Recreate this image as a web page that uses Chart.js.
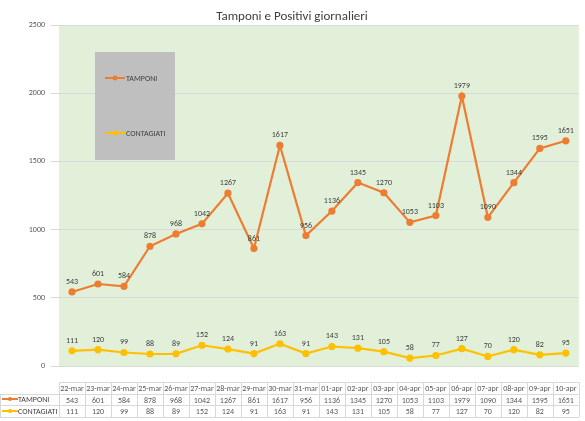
<!DOCTYPE html><html><head><script src="https://cdn.jsdelivr.net/npm/chart.js@4/dist/chart.umd.min.js"></script>
<style>body{margin:0;background:#fff}#w{width:585px;height:421px}</style></head><body><div id="w"><canvas id="c"></canvas></div><script>
const categories=["22-mar","23-mar","24-mar","25-mar","26-mar","27-mar","28-mar","29-mar","30-mar","31-mar","01-apr","02-apr","03-apr","04-apr","05-apr","06-apr","07-apr","08-apr","09-apr","10-apr"];
const tamponi=[543,601,584,878,968,1042,1267,861,1617,956,1136,1345,1270,1053,1103,1979,1090,1344,1595,1651];
const contagiati=[111,120,99,88,89,152,124,91,163,91,143,131,105,58,77,127,70,120,82,95];
const names=["TAMPONI","CONTAGIATI"];
const colors=["#ED7D31","#FFC000"];
const F="Calibri, Carlito, 'Liberation Sans', sans-serif";
const extra={id:'extra',
beforeDraw(ch){const a=ch.chartArea,c=ch.ctx;c.save();c.fillStyle='#E2EFD9';c.fillRect(a.left,a.top,a.right-a.left,a.bottom-a.top);c.restore();},
afterDraw(ch){const c=ch.ctx,a=ch.chartArea,x=ch.scales.x;c.save();
c.font="13px "+F;c.fillStyle='#404040';c.textAlign='center';c.fillText('Tamponi e Positivi giornalieri',292,20);
c.font="8px "+F;c.fillStyle='#404040';
ch.data.datasets.forEach((d,i)=>{ch.getDatasetMeta(i).data.forEach((p,j)=>{c.fillText(d.data[j],p.x,p.y-8);});});
c.fillStyle='#BFBFBF';c.fillRect(95,52,80,108);
[[78,0],[133,1]].forEach(([y,i])=>{c.strokeStyle=colors[i];c.lineWidth=2;c.beginPath();c.moveTo(105,y);c.lineTo(125,y);c.stroke();c.fillStyle=colors[i];c.beginPath();c.arc(115,y,2.5,0,7);c.fill();c.fillStyle='#404040';c.textAlign='left';c.font="8px "+F;c.fillText(names[i],126,y+3);});
const rows=[382,394,405,417];c.strokeStyle='#D9D9D9';c.lineWidth=1;
rows.forEach((y,k)=>{c.beginPath();c.moveTo(k==0?a.left:0,y+.5);c.lineTo(a.right,y+.5);c.stroke();});
const w=(x.getPixelForValue(1)-x.getPixelForValue(0));
for(let j=0;j<=categories.length;j++){const px=Math.round(x.getPixelForValue(0)-w/2+j*w)+.5;c.beginPath();c.moveTo(px,382);c.lineTo(px,417);c.stroke();}
c.beginPath();c.moveTo(.5,394);c.lineTo(.5,417);c.stroke();
c.font="8px "+F;c.fillStyle='#595959';c.textAlign='center';
categories.forEach((l,j)=>{const px=x.getPixelForValue(j);c.fillText(l,px,391);c.fillText(tamponi[j],px,403);c.fillText(contagiati[j],px,414);});
[[399,0],[411,1]].forEach(([y,i])=>{c.strokeStyle=colors[i];c.lineWidth=2;c.beginPath();c.moveTo(2,y);c.lineTo(18,y);c.stroke();c.fillStyle=colors[i];c.beginPath();c.arc(10,y,2,0,7);c.fill();c.fillStyle='#404040';c.textAlign='left';c.fillText(names[i],18,y+3);});
c.restore();}};
new Chart(document.getElementById('c'),{type:'line',data:{labels:categories,datasets:[
{label:names[0],data:tamponi,borderColor:colors[0],backgroundColor:colors[0],borderWidth:2.2,pointRadius:2.5,tension:0},
{label:names[1],data:contagiati,borderColor:colors[1],backgroundColor:colors[1],borderWidth:2.2,pointRadius:2.5,tension:0}]},
plugins:[extra],
options:{responsive:true,maintainAspectRatio:false,animation:false,devicePixelRatio:1,
layout:{padding:{top:25,bottom:0,left:0,right:0}},
plugins:{legend:{display:false},title:{display:false},tooltip:{enabled:false}},
scales:{x:{offset:true,grid:{display:false},border:{display:false},ticks:{display:false},afterFit(s){s.height=55;}},
y:{min:0,max:2500,ticks:{stepSize:500,font:{size:8,family:F},color:'#595959',padding:6,callback:v=>String(v)},grid:{color:'#D9D9D9'},border:{display:false},afterFit(s){s.width=59;}}}}});
</script></body></html>
